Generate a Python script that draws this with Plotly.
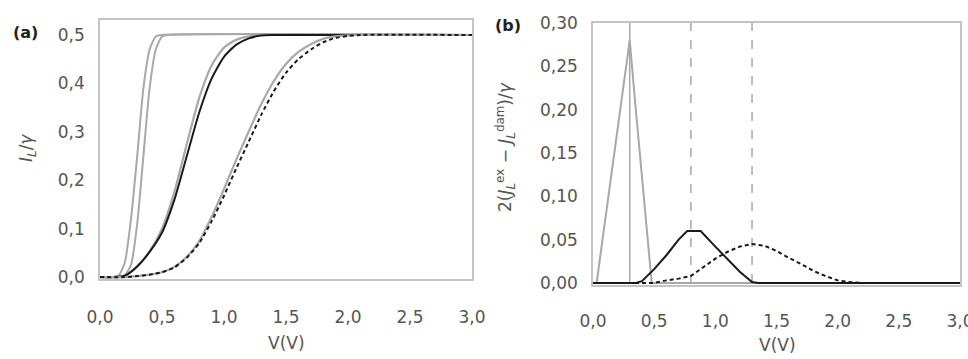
import plotly.graph_objects as go

# ---------------- Panel (a) data: I_L/gamma vs V ----------------
g1_v = [0, 0.1, 0.15, 0.2, 0.25, 0.3, 0.35, 0.4, 0.45, 0.5, 3.0]
g1_i = [0, 0, 0.003, 0.03, 0.12, 0.25, 0.39, 0.47, 0.497, 0.5, 0.5]

g2_v = [0, 0.15, 0.2, 0.25, 0.3, 0.35, 0.4, 0.45, 0.5, 0.55, 3.0]
g2_i = [0, 0, 0.004, 0.025, 0.11, 0.25, 0.39, 0.47, 0.497, 0.5, 0.5]

b_v = [0, 0.1, 0.2, 0.3, 0.4, 0.5, 0.6, 0.7, 0.8, 0.9, 1.0, 1.1, 1.2, 1.3, 1.4, 3.0]
b_i = [0, 0, 0.003, 0.022, 0.052, 0.092, 0.16, 0.25, 0.34, 0.41, 0.455, 0.48, 0.493, 0.499, 0.5, 0.5]

bg_v = [0, 0.1, 0.2, 0.3, 0.4, 0.5, 0.6, 0.7, 0.8, 0.9, 1.0, 1.1, 1.2, 1.3, 3.0]
bg_i = [0, 0, 0.003, 0.022, 0.053, 0.1, 0.176, 0.275, 0.37, 0.437, 0.474, 0.49, 0.497, 0.5, 0.5]

d_v = [0, 0.2, 0.3, 0.4, 0.5, 0.6, 0.7, 0.8, 0.9, 1.0, 1.1, 1.2, 1.3, 1.4, 1.5, 1.6, 1.7, 1.8, 1.9, 2.0, 2.1, 3.0]
d_i = [0, 0, 0.002, 0.005, 0.01, 0.02, 0.04, 0.07, 0.115, 0.168, 0.225, 0.28, 0.335, 0.383, 0.422, 0.45, 0.47, 0.485, 0.494, 0.498, 0.5, 0.5]
dg_i = [0, 0, 0.002, 0.005, 0.01, 0.021, 0.042, 0.074, 0.124, 0.182, 0.243, 0.301, 0.357, 0.404, 0.44, 0.465, 0.481, 0.492, 0.497, 0.4995, 0.5, 0.5]

# ---------------- Panel (b) data: 2(J_ex - J_dam)/gamma ----------------
pg_v = [0, 0.03, 0.1, 0.2, 0.3, 0.35, 0.4, 0.45, 0.48, 3.0]
pg_j = [0, 0, 0.073, 0.176, 0.28, 0.2, 0.125, 0.047, 0, 0]

pb_v = [0, 0.35, 0.4, 0.5, 0.6, 0.7, 0.77, 0.88, 1.0, 1.1, 1.2, 1.3, 1.35, 3.0]
pb_j = [0, 0, 0.002, 0.016, 0.032, 0.05, 0.06, 0.06, 0.042, 0.027, 0.013, 0.001, 0, 0]

pd_v = [0, 0.5, 0.6, 0.7, 0.8, 0.9, 1.0, 1.1, 1.2, 1.3, 1.4, 1.5, 1.6, 1.7, 1.8, 1.9, 2.0, 2.1, 2.2, 3.0]
pd_j = [0, 0, 0.003, 0.005, 0.008, 0.018, 0.028, 0.036, 0.042, 0.045, 0.043, 0.037, 0.029, 0.022, 0.014, 0.008, 0.003, 0.001, 0, 0]

vlines = [0.3, 0.8, 1.3]
vline_dash = ["solid", "dash", "dash"]

GRAY = "#a8a8a8"
BLACK = "#1a1a1a"
FONT = "DejaVu Sans"
FS = 17

fig = go.Figure()

def add(x, y, color, width, dash="solid"):
    fig.add_trace(go.Scatter(
        x=x, y=y, mode="lines",
        line=dict(color=color, width=width, dash=dash, shape="spline", smoothing=0.6),
        xaxis="x", yaxis="y", showlegend=False, hoverinfo="skip"))

# panel (a)
add(g1_v, g1_i, GRAY, 2)
add(g2_v, g2_i, GRAY, 2)
add(bg_v, bg_i, GRAY, 2.2)
add(b_v, b_i, BLACK, 2)
add(d_v, dg_i, GRAY, 2.2)
add(d_v, d_i, BLACK, 2, dash="4px,3px")

# panel (b)
for xv, ds in zip(vlines, vline_dash):
    fig.add_trace(go.Scatter(x=[xv, xv], y=[0, 0.30], mode="lines",
                             line=dict(color=GRAY, width=1.5, dash=ds),
                             xaxis="x2", yaxis="y2", showlegend=False, hoverinfo="skip"))
fig.add_trace(go.Scatter(x=pg_v, y=pg_j, mode="lines", line=dict(color=GRAY, width=2),
                         xaxis="x2", yaxis="y2", showlegend=False, hoverinfo="skip"))
fig.add_trace(go.Scatter(x=pb_v, y=pb_j, mode="lines", line=dict(color=BLACK, width=2),
                         xaxis="x2", yaxis="y2", showlegend=False, hoverinfo="skip"))
fig.add_trace(go.Scatter(x=pd_v, y=pd_j, mode="lines", line=dict(color=BLACK, width=2, dash="4px,3px"),
                         xaxis="x2", yaxis="y2", showlegend=False, hoverinfo="skip"))

W, H = 968, 359
axcommon = dict(showgrid=False, zeroline=False, showline=True, mirror=True,
                linecolor="#c4c4c4", linewidth=1.5, ticks="", automargin=False,
                ticklabeloverflow="allow",
                tickfont=dict(family=FONT, size=FS, color="#555"))

fig.update_layout(
    width=W, height=H, margin=dict(l=0, r=0, t=0, b=0, autoexpand=False),
    paper_bgcolor="white", plot_bgcolor="white",
    separators=",.",
    xaxis=dict(domain=[100 / W, 472 / W], range=[0, 3], tickvals=[0, 0.5, 1, 1.5, 2, 2.5, 3],
               tickformat=".1f", ticklabelstandoff=22, anchor="y", **axcommon),
    yaxis=dict(domain=[1 - 279 / H, 1 - 19.5 / H], range=[-0.004, 0.532],
               tickvals=[0, 0.1, 0.2, 0.3, 0.4, 0.5], tickformat=".1f",
               ticklabelstandoff=10, anchor="x", **axcommon),
    xaxis2=dict(domain=[593 / W, 960 / W], range=[0, 3], tickvals=[0, 0.5, 1, 1.5, 2, 2.5, 3],
                tickformat=".1f", ticklabelstandoff=20, anchor="y2", **axcommon),
    yaxis2=dict(domain=[1 - 284.7 / H, 1 - 23 / H], range=[-0.002, 0.30],
                tickvals=[0, 0.05, 0.1, 0.15, 0.2, 0.25, 0.3], tickformat=".2f",
                ticklabelstandoff=10, anchor="x2", **axcommon),
)

tf = dict(family=FONT, size=FS, color="#555")
ann = [
    dict(x=25 / W, y=1 - 33 / H, text="<b>(a)</b>", font=dict(family=FONT, size=FS - 1, color="#222")),
    dict(x=508 / W, y=1 - 25 / H, text="<b>(b)</b>", font=dict(family=FONT, size=FS - 1, color="#222")),
    dict(x=286 / W, y=1 - 343 / H, text="V(V)", font=tf),
    dict(x=777 / W, y=1 - 345 / H, text="V(V)", font=tf),
    dict(x=27 / W, y=1 - 148 / H, text="<i>I<sub>L</sub></i>/<i>γ</i>", font=tf, textangle=-90),
    dict(x=505 / W, y=1 - 147 / H,
         text="2(<i>J</i><sub><i>L</i></sub><sup>ex</sup> − <i>J</i><sub><i>L</i></sub><sup>dam</sup>)/<i>γ</i>",
         font=tf, textangle=-90),
]
for a in ann:
    fig.add_annotation(xref="paper", yref="paper", showarrow=False, xanchor="center", yanchor="middle", **a)

fig.write_html("out.html")
